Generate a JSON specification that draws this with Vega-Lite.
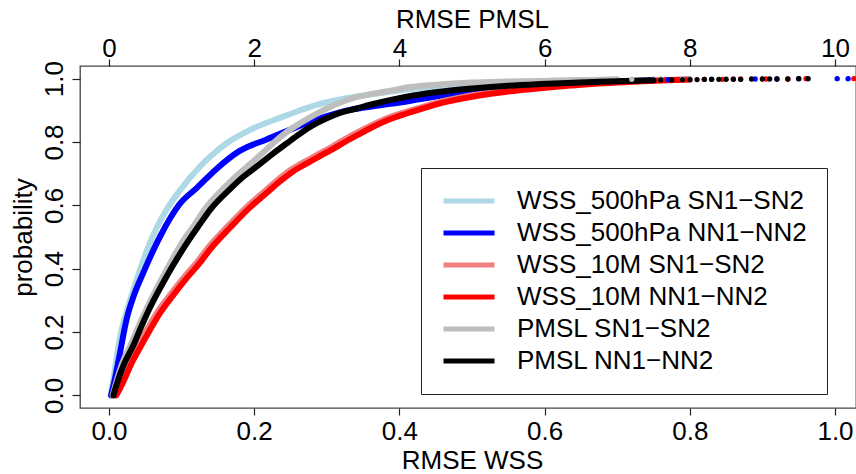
{
  "$schema": "https://vega.github.io/schema/vega-lite/v6.json",
  "width": 776,
  "height": 342,
  "autosize": {"type": "none"},
  "padding": {"left": 80, "top": 66, "right": 0, "bottom": 66},
  "background": "white",
  "config": {
    "font": "Liberation Sans",
    "view": {"stroke": "#444", "strokeWidth": 1.3},
    "axis": {
      "labelFontSize": 26, "titleFontSize": 26, "titleFontWeight": "normal",
      "labelColor": "black", "titleColor": "black", "tickColor": "#222", "tickWidth": 1.2,
      "domain": false, "grid": false, "labelFont": "Liberation Sans", "titleFont": "Liberation Sans"
    },
    "legend": {
      "orient": "none", "legendX": 341, "legendY": 102,
      "strokeColor": "#222", "fillColor": "white", "padding": 20,
      "symbolType": "M-1,0H3.86", "symbolSize": 441, "symbolStrokeWidth": 5,
      "labelFontSize": 26, "labelFont": "Liberation Sans", "labelColor": "black",
      "labelOffset": 50, "rowPadding": 6, "labelLimit": 400
    }
  },
  "datasets": {
    "wss": [
      {"series": "WSS_500hPa SN1−SN2", "rmse": 0.002, "prob": 0.0},
      {"series": "WSS_500hPa SN1−SN2", "rmse": 0.006, "prob": 0.05},
      {"series": "WSS_500hPa SN1−SN2", "rmse": 0.010, "prob": 0.11},
      {"series": "WSS_500hPa SN1−SN2", "rmse": 0.015, "prob": 0.18},
      {"series": "WSS_500hPa SN1−SN2", "rmse": 0.025, "prob": 0.27},
      {"series": "WSS_500hPa SN1−SN2", "rmse": 0.038, "prob": 0.364},
      {"series": "WSS_500hPa SN1−SN2", "rmse": 0.056, "prob": 0.48},
      {"series": "WSS_500hPa SN1−SN2", "rmse": 0.079, "prob": 0.585},
      {"series": "WSS_500hPa SN1−SN2", "rmse": 0.098, "prob": 0.648},
      {"series": "WSS_500hPa SN1−SN2", "rmse": 0.125, "prob": 0.722},
      {"series": "WSS_500hPa SN1−SN2", "rmse": 0.145, "prob": 0.765},
      {"series": "WSS_500hPa SN1−SN2", "rmse": 0.162, "prob": 0.796},
      {"series": "WSS_500hPa SN1−SN2", "rmse": 0.194, "prob": 0.838},
      {"series": "WSS_500hPa SN1−SN2", "rmse": 0.24, "prob": 0.88},
      {"series": "WSS_500hPa SN1−SN2", "rmse": 0.286, "prob": 0.917},
      {"series": "WSS_500hPa SN1−SN2", "rmse": 0.327, "prob": 0.938},
      {"series": "WSS_500hPa SN1−SN2", "rmse": 0.37, "prob": 0.953},
      {"series": "WSS_500hPa SN1−SN2", "rmse": 0.41, "prob": 0.966},
      {"series": "WSS_500hPa SN1−SN2", "rmse": 0.46, "prob": 0.977},
      {"series": "WSS_500hPa SN1−SN2", "rmse": 0.5, "prob": 0.984},
      {"series": "WSS_500hPa SN1−SN2", "rmse": 0.56, "prob": 0.99},
      {"series": "WSS_500hPa SN1−SN2", "rmse": 0.62, "prob": 0.994},
      {"series": "WSS_500hPa SN1−SN2", "rmse": 0.7, "prob": 0.997},

      {"series": "WSS_500hPa NN1−NN2", "rmse": 0.003, "prob": 0.0},
      {"series": "WSS_500hPa NN1−NN2", "rmse": 0.008, "prob": 0.05},
      {"series": "WSS_500hPa NN1−NN2", "rmse": 0.014, "prob": 0.12},
      {"series": "WSS_500hPa NN1−NN2", "rmse": 0.024, "prob": 0.238},
      {"series": "WSS_500hPa NN1−NN2", "rmse": 0.035, "prob": 0.32},
      {"series": "WSS_500hPa NN1−NN2", "rmse": 0.047, "prob": 0.386},
      {"series": "WSS_500hPa NN1−NN2", "rmse": 0.070, "prob": 0.5},
      {"series": "WSS_500hPa NN1−NN2", "rmse": 0.098, "prob": 0.606},
      {"series": "WSS_500hPa NN1−NN2", "rmse": 0.121, "prob": 0.655},
      {"series": "WSS_500hPa NN1−NN2", "rmse": 0.148, "prob": 0.715},
      {"series": "WSS_500hPa NN1−NN2", "rmse": 0.18, "prob": 0.772},
      {"series": "WSS_500hPa NN1−NN2", "rmse": 0.217, "prob": 0.808},
      {"series": "WSS_500hPa NN1−NN2", "rmse": 0.254, "prob": 0.843},
      {"series": "WSS_500hPa NN1−NN2", "rmse": 0.291, "prob": 0.875},
      {"series": "WSS_500hPa NN1−NN2", "rmse": 0.327, "prob": 0.899},
      {"series": "WSS_500hPa NN1−NN2", "rmse": 0.364, "prob": 0.913},
      {"series": "WSS_500hPa NN1−NN2", "rmse": 0.41, "prob": 0.928},
      {"series": "WSS_500hPa NN1−NN2", "rmse": 0.455, "prob": 0.945},
      {"series": "WSS_500hPa NN1−NN2", "rmse": 0.5, "prob": 0.959},
      {"series": "WSS_500hPa NN1−NN2", "rmse": 0.55, "prob": 0.971},
      {"series": "WSS_500hPa NN1−NN2", "rmse": 0.594, "prob": 0.98},
      {"series": "WSS_500hPa NN1−NN2", "rmse": 0.64, "prob": 0.986},
      {"series": "WSS_500hPa NN1−NN2", "rmse": 0.68, "prob": 0.99},
      {"series": "WSS_500hPa NN1−NN2", "rmse": 0.75, "prob": 0.995},

      {"series": "WSS_10M SN1−SN2", "rmse": 0.007, "prob": 0.003},
      {"series": "WSS_10M SN1−SN2", "rmse": 0.014, "prob": 0.035},
      {"series": "WSS_10M SN1−SN2", "rmse": 0.022, "prob": 0.075},
      {"series": "WSS_10M SN1−SN2", "rmse": 0.030, "prob": 0.115},
      {"series": "WSS_10M SN1−SN2", "rmse": 0.040, "prob": 0.157},
      {"series": "WSS_10M SN1−SN2", "rmse": 0.053, "prob": 0.21},
      {"series": "WSS_10M SN1−SN2", "rmse": 0.067, "prob": 0.264},
      {"series": "WSS_10M SN1−SN2", "rmse": 0.085, "prob": 0.32},
      {"series": "WSS_10M SN1−SN2", "rmse": 0.104, "prob": 0.375},
      {"series": "WSS_10M SN1−SN2", "rmse": 0.121, "prob": 0.42},
      {"series": "WSS_10M SN1−SN2", "rmse": 0.136, "prob": 0.465},
      {"series": "WSS_10M SN1−SN2", "rmse": 0.164, "prob": 0.535},
      {"series": "WSS_10M SN1−SN2", "rmse": 0.192, "prob": 0.6},
      {"series": "WSS_10M SN1−SN2", "rmse": 0.212, "prob": 0.64},
      {"series": "WSS_10M SN1−SN2", "rmse": 0.232, "prob": 0.68},
      {"series": "WSS_10M SN1−SN2", "rmse": 0.251, "prob": 0.713},
      {"series": "WSS_10M SN1−SN2", "rmse": 0.269, "prob": 0.737},
      {"series": "WSS_10M SN1−SN2", "rmse": 0.287, "prob": 0.76},
      {"series": "WSS_10M SN1−SN2", "rmse": 0.307, "prob": 0.785},
      {"series": "WSS_10M SN1−SN2", "rmse": 0.322, "prob": 0.805},
      {"series": "WSS_10M SN1−SN2", "rmse": 0.342, "prob": 0.83},
      {"series": "WSS_10M SN1−SN2", "rmse": 0.361, "prob": 0.852},
      {"series": "WSS_10M SN1−SN2", "rmse": 0.382, "prob": 0.874},
      {"series": "WSS_10M SN1−SN2", "rmse": 0.407, "prob": 0.894},
      {"series": "WSS_10M SN1−SN2", "rmse": 0.432, "prob": 0.911},
      {"series": "WSS_10M SN1−SN2", "rmse": 0.453, "prob": 0.925},
      {"series": "WSS_10M SN1−SN2", "rmse": 0.497, "prob": 0.946},
      {"series": "WSS_10M SN1−SN2", "rmse": 0.545, "prob": 0.961},
      {"series": "WSS_10M SN1−SN2", "rmse": 0.591, "prob": 0.972},
      {"series": "WSS_10M SN1−SN2", "rmse": 0.632, "prob": 0.98},
      {"series": "WSS_10M SN1−SN2", "rmse": 0.673, "prob": 0.986},
      {"series": "WSS_10M SN1−SN2", "rmse": 0.717, "prob": 0.991},
      {"series": "WSS_10M SN1−SN2", "rmse": 0.757, "prob": 0.995},
      {"series": "WSS_10M SN1−SN2", "rmse": 0.797, "prob": 0.997},

      {"series": "WSS_10M NN1−NN2", "rmse": 0.010, "prob": 0.0},
      {"series": "WSS_10M NN1−NN2", "rmse": 0.017, "prob": 0.03},
      {"series": "WSS_10M NN1−NN2", "rmse": 0.025, "prob": 0.07},
      {"series": "WSS_10M NN1−NN2", "rmse": 0.033, "prob": 0.11},
      {"series": "WSS_10M NN1−NN2", "rmse": 0.043, "prob": 0.152},
      {"series": "WSS_10M NN1−NN2", "rmse": 0.056, "prob": 0.205},
      {"series": "WSS_10M NN1−NN2", "rmse": 0.070, "prob": 0.259},
      {"series": "WSS_10M NN1−NN2", "rmse": 0.088, "prob": 0.315},
      {"series": "WSS_10M NN1−NN2", "rmse": 0.107, "prob": 0.37},
      {"series": "WSS_10M NN1−NN2", "rmse": 0.124, "prob": 0.415},
      {"series": "WSS_10M NN1−NN2", "rmse": 0.139, "prob": 0.46},
      {"series": "WSS_10M NN1−NN2", "rmse": 0.167, "prob": 0.53},
      {"series": "WSS_10M NN1−NN2", "rmse": 0.195, "prob": 0.595},
      {"series": "WSS_10M NN1−NN2", "rmse": 0.215, "prob": 0.635},
      {"series": "WSS_10M NN1−NN2", "rmse": 0.235, "prob": 0.675},
      {"series": "WSS_10M NN1−NN2", "rmse": 0.254, "prob": 0.708},
      {"series": "WSS_10M NN1−NN2", "rmse": 0.272, "prob": 0.732},
      {"series": "WSS_10M NN1−NN2", "rmse": 0.29, "prob": 0.755},
      {"series": "WSS_10M NN1−NN2", "rmse": 0.31, "prob": 0.78},
      {"series": "WSS_10M NN1−NN2", "rmse": 0.325, "prob": 0.8},
      {"series": "WSS_10M NN1−NN2", "rmse": 0.345, "prob": 0.825},
      {"series": "WSS_10M NN1−NN2", "rmse": 0.364, "prob": 0.848},
      {"series": "WSS_10M NN1−NN2", "rmse": 0.385, "prob": 0.87},
      {"series": "WSS_10M NN1−NN2", "rmse": 0.41, "prob": 0.89},
      {"series": "WSS_10M NN1−NN2", "rmse": 0.435, "prob": 0.908},
      {"series": "WSS_10M NN1−NN2", "rmse": 0.456, "prob": 0.922},
      {"series": "WSS_10M NN1−NN2", "rmse": 0.5, "prob": 0.943},
      {"series": "WSS_10M NN1−NN2", "rmse": 0.548, "prob": 0.959},
      {"series": "WSS_10M NN1−NN2", "rmse": 0.594, "prob": 0.97},
      {"series": "WSS_10M NN1−NN2", "rmse": 0.635, "prob": 0.978},
      {"series": "WSS_10M NN1−NN2", "rmse": 0.676, "prob": 0.985},
      {"series": "WSS_10M NN1−NN2", "rmse": 0.72, "prob": 0.99},
      {"series": "WSS_10M NN1−NN2", "rmse": 0.76, "prob": 0.994},
      {"series": "WSS_10M NN1−NN2", "rmse": 0.8, "prob": 0.997}
    ],
    "wsstail": [
      {"series": "WSS_500hPa SN1−SN2", "rmse": 0.72, "prob": 0.998},
      {"series": "WSS_500hPa SN1−SN2", "rmse": 0.75, "prob": 0.999},
      {"series": "WSS_500hPa SN1−SN2", "rmse": 0.79, "prob": 0.999},
      {"series": "WSS_500hPa SN1−SN2", "rmse": 0.83, "prob": 1.0},
      {"series": "WSS_500hPa NN1−NN2", "rmse": 0.77, "prob": 0.997},
      {"series": "WSS_500hPa NN1−NN2", "rmse": 0.8, "prob": 0.998},
      {"series": "WSS_500hPa NN1−NN2", "rmse": 0.83, "prob": 0.998},
      {"series": "WSS_500hPa NN1−NN2", "rmse": 0.86, "prob": 0.999},
      {"series": "WSS_500hPa NN1−NN2", "rmse": 0.89, "prob": 0.999},
      {"series": "WSS_500hPa NN1−NN2", "rmse": 0.92, "prob": 0.999},
      {"series": "WSS_500hPa NN1−NN2", "rmse": 0.95, "prob": 1.0},
      {"series": "WSS_500hPa NN1−NN2", "rmse": 1.003, "prob": 1.0},
      {"series": "WSS_500hPa NN1−NN2", "rmse": 1.018, "prob": 1.0},
      {"series": "WSS_10M SN1−SN2", "rmse": 0.82, "prob": 0.998},
      {"series": "WSS_10M SN1−SN2", "rmse": 0.86, "prob": 0.999},
      {"series": "WSS_10M SN1−SN2", "rmse": 0.9, "prob": 0.999},
      {"series": "WSS_10M NN1−NN2", "rmse": 0.82, "prob": 0.998},
      {"series": "WSS_10M NN1−NN2", "rmse": 0.845, "prob": 0.998},
      {"series": "WSS_10M NN1−NN2", "rmse": 0.87, "prob": 0.999},
      {"series": "WSS_10M NN1−NN2", "rmse": 0.905, "prob": 0.999},
      {"series": "WSS_10M NN1−NN2", "rmse": 0.935, "prob": 0.999},
      {"series": "WSS_10M NN1−NN2", "rmse": 0.96, "prob": 1.0},
      {"series": "WSS_10M NN1−NN2", "rmse": 1.026, "prob": 1.0}
    ],
    "pmsl": [
      {"series": "PMSL SN1−SN2", "rmse": 0.05, "prob": 0.0},
      {"series": "PMSL SN1−SN2", "rmse": 0.11, "prob": 0.05},
      {"series": "PMSL SN1−SN2", "rmse": 0.18, "prob": 0.1},
      {"series": "PMSL SN1−SN2", "rmse": 0.3, "prob": 0.16},
      {"series": "PMSL SN1−SN2", "rmse": 0.42, "prob": 0.225},
      {"series": "PMSL SN1−SN2", "rmse": 0.52, "prob": 0.275},
      {"series": "PMSL SN1−SN2", "rmse": 0.74, "prob": 0.374},
      {"series": "PMSL SN1−SN2", "rmse": 1.0, "prob": 0.48},
      {"series": "PMSL SN1−SN2", "rmse": 1.18, "prob": 0.54},
      {"series": "PMSL SN1−SN2", "rmse": 1.31, "prob": 0.585},
      {"series": "PMSL SN1−SN2", "rmse": 1.57, "prob": 0.652},
      {"series": "PMSL SN1−SN2", "rmse": 1.74, "prob": 0.69},
      {"series": "PMSL SN1−SN2", "rmse": 1.9, "prob": 0.722},
      {"series": "PMSL SN1−SN2", "rmse": 2.1, "prob": 0.762},
      {"series": "PMSL SN1−SN2", "rmse": 2.26, "prob": 0.796},
      {"series": "PMSL SN1−SN2", "rmse": 2.44, "prob": 0.83},
      {"series": "PMSL SN1−SN2", "rmse": 2.63, "prob": 0.859},
      {"series": "PMSL SN1−SN2", "rmse": 2.8, "prob": 0.882},
      {"series": "PMSL SN1−SN2", "rmse": 3.0, "prob": 0.906},
      {"series": "PMSL SN1−SN2", "rmse": 3.18, "prob": 0.924},
      {"series": "PMSL SN1−SN2", "rmse": 3.35, "prob": 0.938},
      {"series": "PMSL SN1−SN2", "rmse": 3.6, "prob": 0.951},
      {"series": "PMSL SN1−SN2", "rmse": 3.9, "prob": 0.963},
      {"series": "PMSL SN1−SN2", "rmse": 4.1, "prob": 0.972},
      {"series": "PMSL SN1−SN2", "rmse": 4.5, "prob": 0.981},
      {"series": "PMSL SN1−SN2", "rmse": 5.0, "prob": 0.988},
      {"series": "PMSL SN1−SN2", "rmse": 5.5, "prob": 0.991},
      {"series": "PMSL SN1−SN2", "rmse": 6.0, "prob": 0.993},
      {"series": "PMSL SN1−SN2", "rmse": 6.5, "prob": 0.995},
      {"series": "PMSL SN1−SN2", "rmse": 7.0, "prob": 0.997},

      {"series": "PMSL NN1−NN2", "rmse": 0.06, "prob": 0.0},
      {"series": "PMSL NN1−NN2", "rmse": 0.12, "prob": 0.045},
      {"series": "PMSL NN1−NN2", "rmse": 0.2, "prob": 0.095},
      {"series": "PMSL NN1−NN2", "rmse": 0.33, "prob": 0.155},
      {"series": "PMSL NN1−NN2", "rmse": 0.45, "prob": 0.22},
      {"series": "PMSL NN1−NN2", "rmse": 0.56, "prob": 0.275},
      {"series": "PMSL NN1−NN2", "rmse": 0.79, "prob": 0.374},
      {"series": "PMSL NN1−NN2", "rmse": 1.07, "prob": 0.48},
      {"series": "PMSL NN1−NN2", "rmse": 1.25, "prob": 0.54},
      {"series": "PMSL NN1−NN2", "rmse": 1.39, "prob": 0.585},
      {"series": "PMSL NN1−NN2", "rmse": 1.67, "prob": 0.652},
      {"series": "PMSL NN1−NN2", "rmse": 1.85, "prob": 0.69},
      {"series": "PMSL NN1−NN2", "rmse": 2.03, "prob": 0.722},
      {"series": "PMSL NN1−NN2", "rmse": 2.25, "prob": 0.762},
      {"series": "PMSL NN1−NN2", "rmse": 2.45, "prob": 0.796},
      {"series": "PMSL NN1−NN2", "rmse": 2.63, "prob": 0.826},
      {"series": "PMSL NN1−NN2", "rmse": 2.81, "prob": 0.853},
      {"series": "PMSL NN1−NN2", "rmse": 3.0, "prob": 0.875},
      {"series": "PMSL NN1−NN2", "rmse": 3.18, "prob": 0.892},
      {"series": "PMSL NN1−NN2", "rmse": 3.4, "prob": 0.905},
      {"series": "PMSL NN1−NN2", "rmse": 3.64, "prob": 0.92},
      {"series": "PMSL NN1−NN2", "rmse": 3.9, "prob": 0.934},
      {"series": "PMSL NN1−NN2", "rmse": 4.1, "prob": 0.943},
      {"series": "PMSL NN1−NN2", "rmse": 4.5, "prob": 0.957},
      {"series": "PMSL NN1−NN2", "rmse": 5.0, "prob": 0.969},
      {"series": "PMSL NN1−NN2", "rmse": 5.5, "prob": 0.978},
      {"series": "PMSL NN1−NN2", "rmse": 5.94, "prob": 0.983},
      {"series": "PMSL NN1−NN2", "rmse": 6.4, "prob": 0.987},
      {"series": "PMSL NN1−NN2", "rmse": 6.76, "prob": 0.99},
      {"series": "PMSL NN1−NN2", "rmse": 7.5, "prob": 0.995}
    ],
    "pmsltail": [
      {"series": "PMSL SN1−SN2", "rmse": 7.2, "prob": 0.998},
      {"series": "PMSL SN1−SN2", "rmse": 7.6, "prob": 0.999},
      {"series": "PMSL SN1−SN2", "rmse": 8.0, "prob": 0.999},
      {"series": "PMSL SN1−SN2", "rmse": 8.5, "prob": 1.0},
      {"series": "PMSL NN1−NN2", "rmse": 7.6, "prob": 0.996},
      {"series": "PMSL NN1−NN2", "rmse": 7.75, "prob": 0.996},
      {"series": "PMSL NN1−NN2", "rmse": 7.9, "prob": 0.997},
      {"series": "PMSL NN1−NN2", "rmse": 8.0, "prob": 0.997},
      {"series": "PMSL NN1−NN2", "rmse": 8.1, "prob": 0.997},
      {"series": "PMSL NN1−NN2", "rmse": 8.2, "prob": 0.998},
      {"series": "PMSL NN1−NN2", "rmse": 8.3, "prob": 0.998},
      {"series": "PMSL NN1−NN2", "rmse": 8.4, "prob": 0.998},
      {"series": "PMSL NN1−NN2", "rmse": 8.5, "prob": 0.998},
      {"series": "PMSL NN1−NN2", "rmse": 8.6, "prob": 0.998},
      {"series": "PMSL NN1−NN2", "rmse": 8.7, "prob": 0.998},
      {"series": "PMSL NN1−NN2", "rmse": 8.85, "prob": 0.999},
      {"series": "PMSL NN1−NN2", "rmse": 9.0, "prob": 0.999},
      {"series": "PMSL NN1−NN2", "rmse": 9.1, "prob": 0.999},
      {"series": "PMSL NN1−NN2", "rmse": 9.2, "prob": 0.999},
      {"series": "PMSL NN1−NN2", "rmse": 9.35, "prob": 0.999},
      {"series": "PMSL NN1−NN2", "rmse": 9.5, "prob": 1.0},
      {"series": "PMSL NN1−NN2", "rmse": 9.63, "prob": 1.0}
    ]
  },
  "layer": [
    {
      "layer": [
        {
          "data": {"name": "wss"},
          "mark": {"type": "line", "strokeWidth": 6, "interpolate": "monotone", "strokeCap": "round"},
          "encoding": {
            "x": {"field": "rmse", "type": "quantitative",
              "scale": {"domain": [-0.03994, 1.0289], "nice": false, "zero": false},
              "axis": {"orient": "bottom", "values": [0, 0.2, 0.4, 0.6, 0.8, 1], "format": ".1f",
                "title": "RMSE WSS", "tickSize": 7, "labelPadding": 3,
                "titleX": 392, "titleY": 60, "titleBaseline": "alphabetic", "titleAlign": "center"}},
            "y": {"field": "prob", "type": "quantitative",
              "scale": {"domain": [-0.04, 1.04], "nice": false, "zero": false},
              "axis": {"values": [0, 0.2, 0.4, 0.6, 0.8, 1], "format": ".1f", "title": "probability",
                "labelAngle": -90, "labelAlign": "center", "labelBaseline": "alphabetic",
                "tickSize": 8, "labelPadding": 10,
                "titleX": -49, "titleY": 171, "titleAngle": -90, "titleBaseline": "alphabetic", "titleAlign": "center"}},
            "color": {"field": "series", "type": "nominal", "sort": null,
              "scale": {"domain": ["WSS_500hPa SN1−SN2", "WSS_500hPa NN1−NN2", "WSS_10M SN1−SN2", "WSS_10M NN1−NN2", "PMSL SN1−SN2", "PMSL NN1−NN2"],
                "range": ["#ADD8E6", "#0000FF", "#F08080", "#FF0000", "#BEBEBE", "#000000"]},
              "legend": {"title": null}}
          }
        },
        {
          "data": {"name": "wsstail"},
          "mark": {"type": "circle", "size": 28, "opacity": 1},
          "encoding": {
            "x": {"field": "rmse", "type": "quantitative"},
            "y": {"field": "prob", "type": "quantitative"},
            "fill": {"field": "series", "type": "nominal",
              "scale": {"domain": ["WSS_500hPa SN1−SN2", "WSS_500hPa NN1−NN2", "WSS_10M SN1−SN2", "WSS_10M NN1−NN2", "PMSL SN1−SN2", "PMSL NN1−NN2"],
                "range": ["#ADD8E6", "#0000FF", "#F08080", "#FF0000", "#BEBEBE", "#000000"]},
              "legend": null}
          }
        }
      ]
    },
    {
      "layer": [
        {
          "data": {"name": "pmsl"},
          "mark": {"type": "line", "strokeWidth": 6, "interpolate": "monotone", "strokeCap": "round"},
          "encoding": {
            "x": {"field": "rmse", "type": "quantitative",
              "scale": {"domain": [-0.3994, 10.289], "nice": false, "zero": false},
              "axis": {"orient": "top", "values": [0, 2, 4, 6, 8, 10], "format": "d",
                "title": "RMSE PMSL", "tickSize": 7, "labelPadding": 3, "labelBaseline": "alphabetic",
                "titleX": 392, "titleY": -39, "titleBaseline": "alphabetic", "titleAlign": "center"}},
            "y": {"field": "prob", "type": "quantitative"},
            "color": {"field": "series", "type": "nominal", "sort": null,
              "scale": {"domain": ["WSS_500hPa SN1−SN2", "WSS_500hPa NN1−NN2", "WSS_10M SN1−SN2", "WSS_10M NN1−NN2", "PMSL SN1−SN2", "PMSL NN1−NN2"],
                "range": ["#ADD8E6", "#0000FF", "#F08080", "#FF0000", "#BEBEBE", "#000000"]},
              "legend": {"title": null}}
          }
        },
        {
          "data": {"name": "pmsltail"},
          "mark": {"type": "circle", "size": 28, "opacity": 1},
          "encoding": {
            "x": {"field": "rmse", "type": "quantitative"},
            "y": {"field": "prob", "type": "quantitative"},
            "fill": {"field": "series", "type": "nominal",
              "scale": {"domain": ["WSS_500hPa SN1−SN2", "WSS_500hPa NN1−NN2", "WSS_10M SN1−SN2", "WSS_10M NN1−NN2", "PMSL SN1−SN2", "PMSL NN1−NN2"],
                "range": ["#ADD8E6", "#0000FF", "#F08080", "#FF0000", "#BEBEBE", "#000000"]},
              "legend": null}
          }
        }
      ]
    }
  ],
  "resolve": {"scale": {"x": "independent"}, "axis": {"x": "independent"}}
}
